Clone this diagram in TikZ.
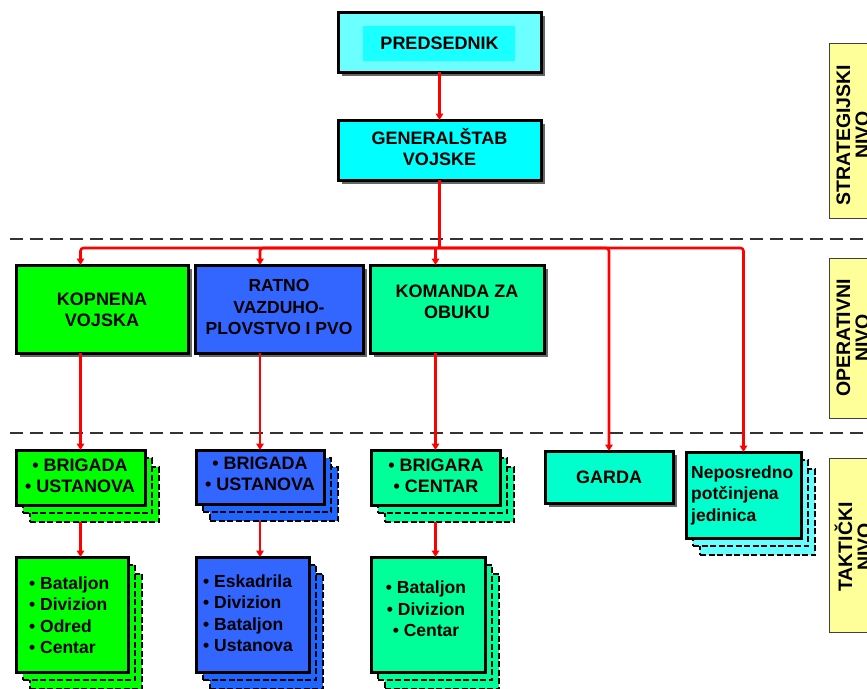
\documentclass[tikz,border=0pt]{standalone}
\usepackage{fontspec}
\setmainfont{Liberation Sans}
\usetikzlibrary{arrows.meta,shadows,calc}
\definecolor{cyanL}{HTML}{6CFFFF}
\definecolor{cyanM}{HTML}{1AFFFF}
\definecolor{cyanG}{HTML}{00FFFF}
\definecolor{greenK}{HTML}{00FF00}
\definecolor{blueR}{HTML}{3366FF}
\definecolor{blueB}{HTML}{1F66FF}
\definecolor{tealK}{HTML}{00FF99}
\definecolor{aquaG}{HTML}{00FFCC}
\definecolor{cyanB}{HTML}{66FFFF}
\definecolor{yellowL}{HTML}{FFFF99}
\definecolor{redC}{HTML}{FF0000}
\tikzset{
  box/.style={draw=black, line width=3pt, inner sep=0pt, outer sep=0pt, anchor=north west},
  opbox/.style={box, drop shadow={shadow xshift=3.5pt, shadow yshift=-3.5pt, fill=black!60, opacity=1}},
  backbox/.style={draw=black, line width=2.8pt, dash pattern=on 6pt off 2.5pt, inner sep=0pt, outer sep=0pt, anchor=north west},
  lbl/.style={font=\bfseries\fontsize{18}{20.5}\selectfont, align=center, inner sep=0pt},
  lst/.style={font=\bfseries\fontsize{17.5}{21.5}\selectfont, inner sep=0pt},
  conn/.style={draw=redC, line width=2.6pt, -{Triangle[length=6.5pt,width=7.5pt]}},
  wire/.style={draw=redC, line width=2.6pt},
  level/.style={draw=black!80, line width=2.5pt, dash pattern=on 13pt off 7pt},
  nivo/.style={fill=yellowL, draw=black!75, line width=1.2pt, anchor=north west, inner sep=0pt},
  nivotext/.style={font=\bfseries\fontsize{19.5}{19}\selectfont, align=center, rotate=90, inner sep=0pt},
}
\newcommand\mystack[7]{%
  \node[backbox, fill=#7, minimum width=#4pt, minimum height=#5pt] (#1-b2) at (#2+14,#3+17) {};
  \node[backbox, fill=#7, minimum width=#4pt, minimum height=#5pt] (#1-b1) at (#2+7,#3+8) {};
  \node[box, fill=#6, minimum width=#4pt, minimum height=#5pt] (#1) at (#2,#3) {};
}
\begin{document}
\begin{tikzpicture}[x=1pt, y=-1pt]
\useasboundingbox (0,0) rectangle (867,688);
\clip (0,0) rectangle (867,688);
\fill[white] (0,0) rectangle (867,688);

% level separators
\coordinate (d1l) at (10,239);
\coordinate (d1r) at (870,239);
\coordinate (d2l) at (10,433);
\coordinate (d2r) at (870,433);
\draw[level] (d1l) -- (d1r);
\draw[level] (d2l) -- (d2r);

% level labels
\node[nivo, minimum width=60pt, minimum height=175pt] (n1) at (829,43) {};
\node[nivotext] (n1t) at (853,135) {STRATEGIJSKI\\NIVO};
\node[nivo, minimum width=60pt, minimum height=160pt] (n2) at (829,258) {};
\node[nivotext] (n2t) at (853,338) {OPERATIVNI\\NIVO};
\node[nivo, minimum width=60pt, minimum height=174pt] (n3) at (829,458) {};
\node[nivotext] (n3t) at (853,547) {TAKTIČKI\\NIVO};

% strategic
\node[opbox, fill=cyanL, minimum width=203pt, minimum height=60pt] (pred) at (338,12) {};
\node[fill=cyanM, inner sep=0pt, minimum width=152pt, minimum height=35pt, anchor=north west] (predin) at (363,26) {};
\node[lbl] (tpred) at (439.5,43) {PREDSEDNIK};
\node[opbox, fill=cyanG, minimum width=203pt, minimum height=60pt] (gs) at (338,120) {};
\node[lbl] (tgs) at (439.5,147) {GENERALŠTAB\\VOJSKE};

% operational
\node[opbox, fill=greenK, minimum width=172pt, minimum height=88pt] (kv) at (16,265) {};
\node[lbl] (tkv) at (102,310) {KOPNENA\\VOJSKA};
\node[opbox, fill=blueR, minimum width=168pt, minimum height=88pt] (rv) at (195,265) {};
\node[lbl, font=\bfseries\fontsize{17.5}{21.5}\selectfont] (trv) at (279,307) {RATNO\\VAZDUHO-\\PLOVSTVO I PVO};
\node[opbox, fill=tealK, minimum width=174pt, minimum height=88pt] (kob) at (370,265) {};
\node[lbl] (tkob) at (457,302) {KOMANDA ZA\\OBUKU};

% tactical
\mystack{brg}{16}{450}{129}{55}{greenK}{greenK}
\node[lbl] (tbrg) at (80,476) {• BRIGADA\\• USTANOVA};
\mystack{bat}{16}{557}{112}{115}{greenK}{greenK}
\node[lst, align=left, anchor=west] (tbat) at (29,615) {• Bataljon\\• Divizion\\• Odred\\• Centar};

\mystack{brb}{196}{450}{128}{54}{blueR}{blueB}
\node[lbl] (tbrb) at (260,474) {• BRIGADA\\• USTANOVA};
\mystack{esk}{196}{557}{113}{115}{blueR}{blueB}
\node[lst, align=left, anchor=west] (tesk) at (203,613) {• Eskadrila\\• Divizion\\• Bataljon\\• Ustanova};

\mystack{brt}{371}{450}{129}{55}{tealK}{tealK}
\node[lbl] (tbrt) at (436,476) {• BRIGARA\\• CENTAR};
\mystack{bto}{371}{557}{114}{115}{tealK}{tealK}
\node[lst, align=center] (tbto) at (426,609) {• Bataljon\\• Divizion\\• Centar};

\node[opbox, fill=aquaG, minimum width=128pt, minimum height=52pt] (garda) at (545,451) {};
\node[lbl] (tgarda) at (609,477) {GARDA};

\mystack{nep}{686}{452}{115}{86}{aquaG}{cyanB}
\node[lst, align=left, anchor=west] (tnep) at (691,495) {Neposredno\\potčinjena\\jedinica};

% connectors
\coordinate (bus) at (439.5,248);
\draw[conn] (pred.south) -- (gs.north);
\draw[wire] (gs.south) -- (bus);
\draw[conn, rounded corners=3pt] (bus) -| (brg.north |- kv.north);
\draw[conn, rounded corners=3pt] (bus) -| (brb.north |- rv.north);
\draw[conn] (bus) -| (brt.north |- kob.north);
\draw[conn, rounded corners=3pt] (bus) -| (garda.north);
\draw[conn, rounded corners=3pt] (bus) -| (nep.north);

\draw[conn] (kv.south -| brg.north) -- (brg.north);
\draw[conn] (rv.south -| brb.north) -- (brb.north);
\draw[conn] (kob.south -| brt.north) -- (brt.north);

\draw[conn] (brg-b2.south -| brg.north) -- (brg.north |- bat.north);
\draw[conn] (brb-b2.south -| brb.north) -- (brb.north |- esk.north);
\draw[conn] (brt-b2.south -| brt.north) -- (brt.north |- bto.north);
\end{tikzpicture}
\end{document}
